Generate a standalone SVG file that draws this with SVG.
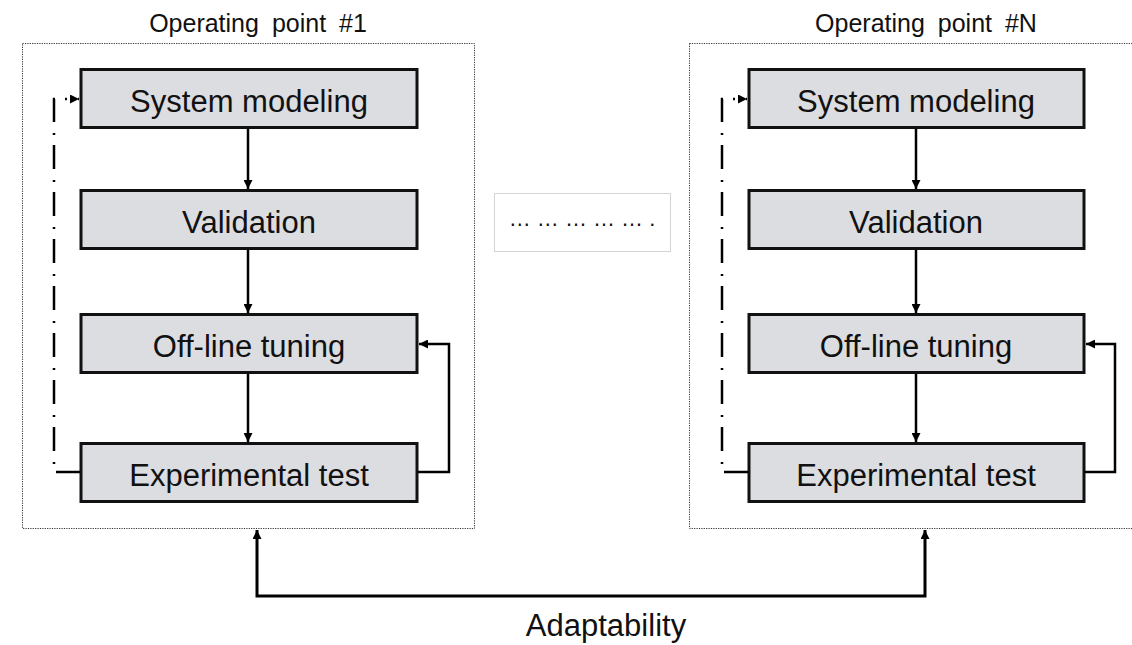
<svg xmlns="http://www.w3.org/2000/svg" width="1132" height="645" viewBox="0 0 1132 645">
  <defs>
    <marker id="arrow" markerUnits="userSpaceOnUse" markerWidth="10" markerHeight="9" refX="9" refY="4.5" orient="auto-start-reverse">
      <path d="M0,0 L9,4.5 L0,9 z" fill="#000"/>
    </marker>
    <style>
      .frame { fill: none; stroke: #333; stroke-width: 1; stroke-dasharray: 1.2 1.2; }
      .box { fill: #dcdde1; stroke: #111; stroke-width: 3; }
      .label { font-family: "Liberation Sans", Arial, sans-serif; font-size: 31px; fill: #111; text-anchor: middle; }
      .title { font-family: "Liberation Sans", Arial, sans-serif; font-size: 25px; fill: #111; text-anchor: middle; word-spacing: 6px; }
      .flow { fill: none; stroke: #000; stroke-width: 2.5; marker-end: url(#arrow); }
      .loop { fill: none; stroke: #000; stroke-width: 2.5; stroke-dasharray: 24 10 2 11; marker-end: url(#arrow); }
      .link { fill: none; stroke: #000; stroke-width: 3; marker-start: url(#arrow); marker-end: url(#arrow); }
    </style>
  </defs>

  <rect width="1132" height="645" fill="#fff"/>

  <!-- operating point frames -->
  <g id="op1-frame">
    <rect class="frame" x="22.5" y="43.5" width="452" height="485"/>
    <text class="title" x="258" y="32">Operating point #1</text>
  </g>
  <g id="opN-frame">
    <rect class="frame" x="689.5" y="43.5" width="460" height="485"/>
    <text class="title" x="926" y="32">Operating point #N</text>
  </g>

  <!-- operating point #1 steps -->
  <g id="op1-modeling">
    <rect class="box" x="81" y="69.5" width="336" height="58"/>
    <text class="label" x="249" y="112">System modeling</text>
  </g>
  <g id="op1-validation">
    <rect class="box" x="81" y="190.5" width="336" height="58"/>
    <text class="label" x="249" y="233">Validation</text>
  </g>
  <g id="op1-tuning">
    <rect class="box" x="81" y="314.5" width="336" height="58"/>
    <text class="label" x="249" y="357">Off-line tuning</text>
  </g>
  <g id="op1-test">
    <rect class="box" x="81" y="443.5" width="336" height="58"/>
    <text class="label" x="249" y="486">Experimental test</text>
  </g>

  <!-- operating point #N steps -->
  <g id="opN-modeling">
    <rect class="box" x="749" y="69.5" width="335" height="58"/>
    <text class="label" x="916" y="112">System modeling</text>
  </g>
  <g id="opN-validation">
    <rect class="box" x="749" y="190.5" width="335" height="58"/>
    <text class="label" x="916" y="233">Validation</text>
  </g>
  <g id="opN-tuning">
    <rect class="box" x="749" y="314.5" width="335" height="58"/>
    <text class="label" x="916" y="357">Off-line tuning</text>
  </g>
  <g id="opN-test">
    <rect class="box" x="749" y="443.5" width="335" height="58"/>
    <text class="label" x="916" y="486">Experimental test</text>
  </g>

  <!-- placeholder for intermediate operating points -->
  <g id="ellipsis">
    <rect x="494.5" y="193.5" width="176" height="58" fill="#fff" stroke="#d4d4d4" stroke-width="1"/>
    <text x="582" y="226" font-family="Liberation Sans, Arial, sans-serif" font-size="22" fill="#111" text-anchor="middle">… … … … … .</text>
  </g>

  <!-- connectors -->
  <g id="connectors">
    <!-- operating point #1 -->
    <path class="flow" d="M248,129 V189"/>
    <path class="flow" d="M248,250 V313"/>
    <path class="flow" d="M248,374 V442"/>
    <path class="flow" d="M418,472 H449 V344 H419"/>
    <path class="loop" d="M80,472 H54 V99 H79"/>

    <!-- operating point #N -->
    <path class="flow" d="M916,129 V189"/>
    <path class="flow" d="M916,250 V313"/>
    <path class="flow" d="M916,374 V442"/>
    <path class="flow" d="M1085,472 H1115 V344 H1086"/>
    <path class="loop" d="M748,472 H722 V99 H747"/>

    <!-- adaptability link between operating points -->
    <path class="link" d="M257,530 V596 H925 V530"/>
  </g>

  <text id="adaptability" x="606" y="636" font-family="Liberation Sans, Arial, sans-serif" font-size="31" fill="#111" text-anchor="middle">Adaptability</text>
</svg>
